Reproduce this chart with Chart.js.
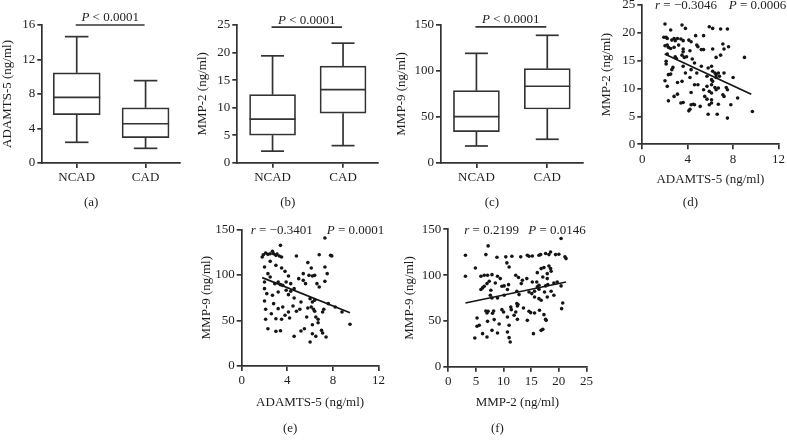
<!DOCTYPE html>
<html><head><meta charset="utf-8">
<script src="https://cdn.jsdelivr.net/npm/chart.js@4.4.1/dist/chart.umd.min.js"></script>
<style>
html,body{margin:0;padding:0;background:#fff;width:787px;height:446px;overflow:hidden;position:relative}
canvas{position:absolute}
</style></head><body>
<canvas id="ca"></canvas><canvas id="cb"></canvas><canvas id="cc"></canvas>
<canvas id="cd"></canvas><canvas id="ce"></canvas><canvas id="cf"></canvas>
<script>
// ---------- DATA ----------
const groups = ['NCAD', 'CAD'];
// (a) ADAMTS-5 (ng/ml)
const aMin = [2.4, 1.7], aQ1 = [5.6, 2.95], aMed = [7.6, 4.55], aQ3 = [10.45, 6.4], aMax = [14.65, 9.55];
// (b) MMP-2 (ng/ml)
const bMin = [2.1, 3.1], bQ1 = [5.0, 9.0], bMed = [7.9, 13.25], bQ3 = [12.35, 17.55], bMax = [19.4, 21.7];
// (c) MMP-9 (ng/ml)
const cMin = [18.5, 25.8], cQ1 = [34.0, 58.7], cMed = [50.5, 83.4], cQ3 = [78.6, 102.5], cMax = [119.2, 138.8];
const boxPText = 'P < 0.0001';

// (d) ADAMTS-5 vs MMP-2
const dPoints = [[2.0,21.6],[2.5,20.5],[3.5,21.4],[3.8,20.8],[4.7,19.5],[5.4,19.5],[5.9,21.1],[6.2,20.8],[6.9,20.7],[7.5,20.7],[1.9,19.2],[2.1,19.2],[2.2,19.0],[2.6,18.7],[2.8,19.0],[2.9,18.6],[3.1,19.0],[3.4,18.9],[3.6,18.6],[4.1,18.7],[4.3,18.4],[4.8,17.8],[4.9,17.5],[2.0,17.7],[2.2,17.8],[2.3,17.4],[2.5,17.2],[2.8,17.4],[3.2,17.8],[3.6,17.1],[3.6,16.6],[4.2,16.8],[5.2,17.0],[5.4,17.0],[6.2,17.1],[7.1,18.0],[7.2,17.1],[7.6,17.5],[2.2,16.2],[2.9,15.7],[3.0,15.4],[3.5,16.0],[3.7,15.6],[3.9,15.7],[4.4,15.3],[6.5,15.6],[6.9,16.0],[9.0,15.6],[2.1,14.9],[2.1,14.4],[2.7,13.8],[2.6,13.4],[3.6,14.0],[3.8,12.8],[4.3,13.4],[4.6,14.6],[5.2,14.0],[5.8,13.7],[6.1,14.0],[6.2,13.1],[6.4,12.8],[6.5,12.5],[6.7,12.8],[6.8,12.2],[6.5,12.0],[2.3,12.5],[2.5,12.6],[3.1,11.1],[3.5,11.3],[4.2,12.0],[4.8,12.8],[5.7,12.2],[6.1,11.6],[6.2,11.3],[7.2,12.8],[8.0,12.0],[2.0,11.4],[2.2,10.4],[4.6,10.7],[4.9,10.7],[5.7,10.4],[6.1,10.7],[6.4,10.2],[6.5,9.8],[6.7,10.1],[7.4,10.2],[7.5,9.8],[2.8,8.6],[3.1,9.0],[4.3,9.3],[5.4,9.8],[5.9,9.5],[6.1,9.2],[7.1,8.9],[7.2,8.6],[8.4,8.3],[2.3,7.8],[3.4,7.4],[3.6,7.5],[4.3,7.1],[4.5,7.2],[4.6,7.1],[5.5,8.6],[5.7,8.1],[6.1,8.0],[5.9,7.1],[6.1,7.4],[6.7,7.2],[7.8,7.1],[4.2,6.3],[4.1,6.0],[5.1,6.8],[5.8,5.4],[6.6,5.4],[7.5,4.7],[9.7,5.9]];
const dLineX = [1.97, 9.6], dLineY = [16.2, 9.0];
const dStats = ['−0.3046', '0.0006'];

// (e) ADAMTS-5 vs MMP-9
const ePoints = [[3.4,132.6],[7.3,140.7],[1.9,122.3],[2.1,124.2],[2.3,122.7],[2.5,123.4],[2.7,126.0],[2.8,123.4],[3.0,121.6],[3.1,123.1],[3.3,120.9],[3.5,119.8],[1.8,119.8],[4.8,120.9],[6.8,122.3],[7.8,121.6],[7.9,121.0],[2.5,115.0],[5.8,113.6],[3.0,110.6],[2.0,108.8],[6.1,107.7],[7.3,108.8],[2.3,101.5],[2.5,97.8],[3.5,107.7],[3.8,104.0],[4.1,98.9],[5.4,101.5],[5.9,99.6],[6.2,98.9],[6.4,99.6],[7.5,101.5],[2.0,92.3],[2.0,85.0],[2.9,90.5],[3.2,92.3],[3.4,89.4],[3.6,88.6],[3.9,92.3],[4.3,90.5],[4.6,85.0],[5.0,96.0],[5.4,94.1],[5.6,90.5],[6.6,90.5],[6.8,86.8],[7.3,93.0],[2.2,79.5],[2.7,77.7],[3.2,81.3],[3.9,83.2],[4.1,78.4],[4.3,82.1],[4.6,74.7],[5.2,70.3],[6.0,74.0],[6.2,70.3],[6.4,72.2],[6.1,64.8],[6.3,62.3],[6.4,60.1],[7.6,68.5],[8.2,64.8],[2.0,71.4],[2.8,68.5],[3.2,63.0],[3.6,64.8],[4.1,59.3],[4.5,65.9],[4.8,60.1],[5.1,62.3],[5.8,63.7],[7.2,62.3],[7.1,59.3],[2.1,62.3],[2.6,57.5],[3.5,51.3],[3.8,55.7],[4.2,52.7],[6.5,53.8],[6.7,51.3],[8.8,59.3],[2.1,51.3],[3.0,52.0],[5.7,53.8],[6.7,47.6],[6.2,45.4],[9.5,45.8],[2.3,41.0],[3.0,38.1],[3.4,38.8],[5.2,38.5],[5.5,41.0],[7.0,39.2],[7.1,36.3],[4.6,32.6],[6.2,35.5],[6.5,32.6],[7.4,31.9],[6.0,26.4]];
const eLineX = [1.8, 9.5], eLineY = [97.1, 58.6];
const eStats = ['−0.3401', '0.0001'];

// (f) MMP-2 vs MMP-9
const fPoints = [[7.2,131.9],[20.4,139.9],[3.1,121.7],[6.8,122.4],[8.8,119.5],[10.4,119.9],[11.5,120.6],[13.1,119.9],[14.3,121.7],[14.6,120.6],[15.2,120.9],[16.4,121.7],[16.7,122.4],[17.6,123.5],[18.2,122.4],[18.5,125.3],[19.4,122.4],[20.0,122.7],[21.1,119.9],[21.3,118.0],[10.6,113.3],[4.9,107.8],[11.0,108.9],[16.8,107.1],[17.3,108.2],[18.2,110.0],[18.5,107.1],[18.6,104.2],[17.9,101.6],[3.1,98.7],[5.9,98.7],[6.5,99.8],[7.1,99.8],[7.9,100.5],[8.9,98.7],[9.4,96.2],[12.2,99.8],[12.7,97.3],[16.1,102.7],[17.1,98.0],[17.9,96.2],[14.2,96.2],[13.4,94.4],[7.0,90.7],[6.5,87.8],[7.4,93.3],[8.5,91.4],[9.7,87.8],[10.1,88.2],[10.9,89.6],[13.2,90.7],[15.2,92.5],[16.0,92.5],[16.1,87.1],[16.4,88.9],[17.6,88.2],[18.0,89.6],[19.1,91.4],[19.7,92.5],[20.4,88.2],[5.9,84.2],[6.2,86.0],[7.7,83.4],[10.7,84.2],[12.4,82.3],[14.6,81.6],[15.6,82.3],[16.4,84.5],[17.4,81.6],[18.6,82.3],[7.6,78.0],[7.9,75.0],[8.9,75.0],[10.1,78.0],[12.8,78.7],[15.1,79.8],[15.6,76.1],[16.4,74.3],[16.8,72.5],[17.9,76.1],[19.1,78.0],[20.7,69.6],[20.5,63.4],[6.8,60.8],[7.0,58.7],[7.2,60.5],[8.2,60.8],[8.0,58.3],[9.7,62.3],[10.0,59.7],[11.3,65.2],[11.4,62.3],[12.4,68.9],[12.6,67.8],[12.5,66.3],[12.2,59.7],[11.9,56.1],[13.6,64.1],[14.6,60.5],[14.9,59.0],[15.6,58.7],[16.5,61.6],[17.3,56.8],[17.6,51.7],[17.7,50.6],[5.2,53.2],[8.3,51.4],[10.7,54.3],[12.5,51.7],[14.3,50.6],[5.2,44.1],[5.6,45.2],[7.1,49.5],[9.2,46.6],[11.0,45.2],[6.2,36.1],[7.9,39.7],[8.9,36.8],[10.7,37.9],[11.0,31.7],[4.8,31.3],[7.0,32.4],[11.2,27.0],[15.4,36.1],[16.8,39.7],[17.1,40.8]];
const fLineX = [3.1, 21.3], fLineY = [69.5, 92.5];
const fStats = ['0.2199', '0.0146'];

// ---------- STYLE ----------
const FAMILY = '"Liberation Serif", "DejaVu Serif", serif';
const LINE = '#333333';
const TXT = '#1e1e1e';
const FONT = {family: FAMILY, size: 13};
const LW = 1.7;

function rich(ctx, parts, x, y, align) {
  let total = 0;
  const ws = parts.map(p => { ctx.font = (p[1] ? 'italic ' : '') + '13px ' + FAMILY; const w = ctx.measureText(p[0]).width; total += w; return w; });
  let cx = align === 'center' ? x - total / 2 : x;
  ctx.textAlign = 'left'; ctx.textBaseline = 'middle'; ctx.fillStyle = TXT;
  parts.forEach((p, i) => { ctx.font = (p[1] ? 'italic ' : '') + '13px ' + FAMILY; ctx.fillText(p[0], cx, y); cx += ws[i]; });
}

const annot = {
  id: 'annot',
  afterDatasetsDraw(chart, args, o) {
    const ctx = chart.ctx, ca = chart.chartArea, ys = chart.scales.y;
    ctx.save();
    if (o.kind === 'box') {
      const els = chart.getDatasetMeta(0).data;
      ctx.strokeStyle = LINE; ctx.lineWidth = LW; ctx.lineCap = 'butt';
      const line = (x1, y1, x2, y2) => { ctx.beginPath(); ctx.moveTo(x1, y1); ctx.lineTo(x2, y2); ctx.stroke(); };
      els.forEach((el, i) => {
        const x = el.x, hw = el.width / 2;
        line(x - hw, ys.getPixelForValue(o.med[i]), x + hw, ys.getPixelForValue(o.med[i]));
        line(x, ys.getPixelForValue(o.q3[i]), x, ys.getPixelForValue(o.max[i]));
        line(x, ys.getPixelForValue(o.q1[i]), x, ys.getPixelForValue(o.min[i]));
        line(x - hw / 2, ys.getPixelForValue(o.max[i]), x + hw / 2, ys.getPixelForValue(o.max[i]));
        line(x - hw / 2, ys.getPixelForValue(o.min[i]), x + hw / 2, ys.getPixelForValue(o.min[i]));
      });
      const py = ys.getPixelForValue(o.pY);
      const x0 = els[0].x - 1, x1 = els[1].x - 1;
      line(x0, py, x1, py);
      rich(ctx, [['P', true], [boxPText.slice(1), false]], (x0 + x1) / 2, py - 7, 'center');
    } else {
      rich(ctx, [['r', true], [' = ' + o.stats[0], false]], ca.left + o.rDx, ca.top + 1, 'left');
      rich(ctx, [['P', true], [' = ' + o.stats[1], false]], ca.left + o.pDx, ca.top + 1, 'left');
    }
    ctx.font = '13px ' + FAMILY; ctx.fillStyle = TXT; ctx.textAlign = 'center'; ctx.textBaseline = 'middle';
    ctx.fillText(o.label, (ca.left + ca.right) / 2 + o.labelDx, o.labelY);
    ctx.restore();
  }
};

function place(id, b) {
  const cv = document.getElementById(id);
  cv.width = b.w; cv.height = b.h;
  cv.style.left = b.x + 'px'; cv.style.top = b.y + 'px';
  cv.style.width = b.w + 'px'; cv.style.height = b.h + 'px';
  return cv;
}

function axisCommon(extra) {
  return Object.assign({
    grid: {display: true, drawOnChartArea: false, drawTicks: true, tickLength: 5, color: LINE, lineWidth: LW},
    border: {display: true, color: LINE, width: LW},
    ticks: {font: FONT, color: TXT, padding: 2}
  }, extra);
}

function boxChart(id, b, o) {
  const cv = place(id, b);
  const x = axisCommon({type: 'category', offset: true, afterFit(s) { s.height = b.xh; }});
  x.grid.offset = false;
  const y = axisCommon({min: 0, max: o.ymax,
    title: {display: true, text: o.title, font: FONT, color: TXT, padding: {top: o.tp, bottom: 0}},
    afterFit(s) { s.width = b.yw; }});
  y.ticks.stepSize = o.step;
  new Chart(cv, {
    type: 'bar',
    data: {labels: groups, datasets: [{
      data: o.q1.map((v, i) => [v, o.q3[i]]),
      backgroundColor: '#ffffff', borderColor: LINE, borderWidth: LW, borderSkipped: false, barThickness: o.bw
    }]},
    options: {
      responsive: false, animation: false, devicePixelRatio: 1,
      layout: {padding: {top: b.pt, right: b.pr, left: 0, bottom: 0}},
      plugins: {legend: {display: false}, tooltip: {enabled: false},
        annot: {kind: 'box', min: o.min, q1: o.q1, med: o.med, q3: o.q3, max: o.max, pY: o.pY,
                label: o.label, labelDx: -20, labelY: b.ly}},
      scales: {x: x, y: y}
    },
    plugins: [annot]
  });
}

function scatterChart(id, b, o) {
  const cv = place(id, b);
  const x = axisCommon({type: 'linear', min: 0, max: o.xmax,
    title: {display: true, text: o.xtitle, font: FONT, color: TXT, padding: {top: 0, bottom: o.xtp}},
    afterFit(s) { s.height = b.xh; }});
  x.ticks.stepSize = o.xstep;
  const y = axisCommon({type: 'linear', min: 0, max: o.ymax,
    title: {display: true, text: o.ytitle, font: FONT, color: TXT, padding: {top: o.tp, bottom: 0}},
    afterFit(s) { s.width = b.yw; }});
  y.ticks.stepSize = o.ystep;
  new Chart(cv, {
    type: 'scatter',
    data: {datasets: [
      {type: 'scatter', data: o.pts.map(p => ({x: p[0], y: p[1]})), pointRadius: 1.8, pointBackgroundColor: '#151515', pointBorderWidth: 0, showLine: false},
      {type: 'line', data: o.lx.map((v, i) => ({x: v, y: o.ly[i]})), borderColor: '#151515', borderWidth: 1.7, pointRadius: 0, fill: false, showLine: true}
    ]},
    options: {
      responsive: false, animation: false, devicePixelRatio: 1,
      layout: {padding: {top: b.pt, right: b.pr, left: 0, bottom: 0}},
      plugins: {legend: {display: false}, tooltip: {enabled: false},
        annot: {kind: 'scatter', stats: o.stats, rDx: o.rDx, pDx: o.pDx, label: o.label, labelDx: -20, labelY: b.ly}},
      scales: {x: x, y: y}
    },
    plugins: [annot]
  });
}

boxChart('ca', {x: 0, y: 0, w: 190, h: 215, yw: 42.3, pt: 25, pr: 10, xh: 52, ly: 203},
  {min: aMin, q1: aQ1, med: aMed, q3: aQ3, max: aMax, ymax: 16, step: 4, title: 'ADAMTS-5 (ng/ml)', tp: 0, bw: 47, pY: 16, label: '(a)'});
boxChart('cb', {x: 195, y: 0, w: 190, h: 215, yw: 42.3, pt: 25, pr: 6.7, xh: 52.3, ly: 203},
  {min: bMin, q1: bQ1, med: bMed, q3: bQ3, max: bMax, ymax: 25, step: 5, title: 'MMP-2 (ng/ml)', tp: 0, bw: 46, pY: 24.6, label: '(b)'});
boxChart('cc', {x: 392, y: 0, w: 196, h: 215, yw: 49, pt: 25, pr: 5.3, xh: 52, ly: 203},
  {min: cMin, q1: cQ1, med: cMed, q3: cQ3, max: cMax, ymax: 150, step: 50, title: 'MMP-9 (ng/ml)', tp: 2, bw: 46, pY: 148, label: '(c)'});

scatterChart('cd', {x: 597, y: -6, w: 190, h: 221, yw: 45.3, pt: 11, pr: 6.7, xh: 70.7, ly: 209},
  {pts: dPoints, lx: dLineX, ly: dLineY, stats: dStats, xmax: 12, xstep: 4, ymax: 25, ystep: 5,
   xtitle: 'ADAMTS-5 (ng/ml)', ytitle: 'MMP-2 (ng/ml)', tp: 2, xtp: 27.2, rDx: 12.7, pDx: 86.5, label: '(d)'});
scatterChart('ce', {x: 195, y: 215, w: 192, h: 231, yw: 46.7, pt: 14.5, pr: 7, xh: 80, ly: 213.3},
  {pts: ePoints, lx: eLineX, ly: eLineY, stats: eStats, xmax: 12, xstep: 4, ymax: 150, ystep: 50,
   xtitle: 'ADAMTS-5 (ng/ml)', ytitle: 'MMP-9 (ng/ml)', tp: 4, xtp: 35.5, rDx: 9, pDx: 85, label: '(e)'});
scatterChart('cf', {x: 400, y: 215, w: 195, h: 231, yw: 48.3, pt: 14.3, pr: 7.1, xh: 79.3, ly: 213.3},
  {pts: fPoints, lx: fLineX, ly: fLineY, stats: fStats, xmax: 25, xstep: 5, ymax: 150, ystep: 50,
   xtitle: 'MMP-2 (ng/ml)', ytitle: 'MMP-9 (ng/ml)', tp: 2, xtp: 35.5, rDx: 16, pDx: 80, label: '(f)'});
</script>
</body></html>
